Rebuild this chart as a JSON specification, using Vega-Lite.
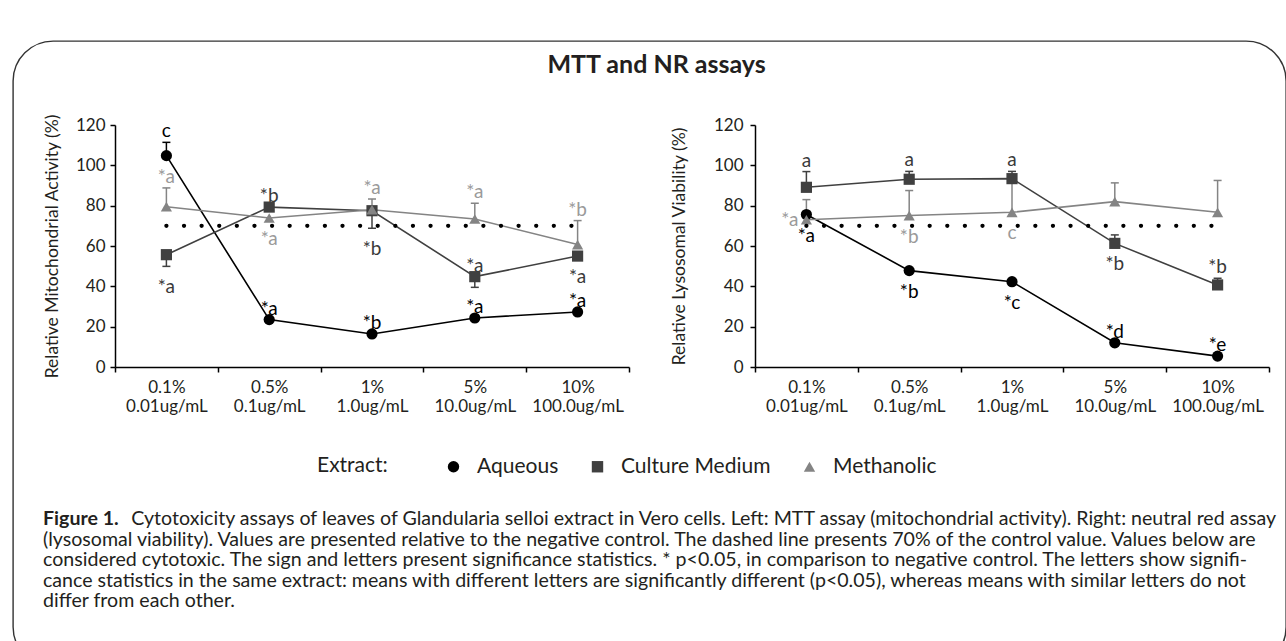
{
  "$schema": "https://vega.github.io/schema/vega-lite/v6.json",
  "background": "white",
  "padding": {"left": 12, "top": 40, "right": 0, "bottom": 0},
  "datasets": {
    "pts": [
      {"p": "MTT", "c": "0.1%|0.01ug/mL", "s": "Aqueous", "v": 104.8, "lo": 104.8, "hi": 111.4, "la": "c"},
      {"p": "MTT", "c": "0.5%|0.1ug/mL", "s": "Aqueous", "v": 23.5, "lo": 23.5, "hi": 23.5, "la": "*a"},
      {"p": "MTT", "c": "1%|1.0ug/mL", "s": "Aqueous", "v": 16.4, "lo": 16.4, "hi": 16.4, "la": "*b"},
      {"p": "MTT", "c": "5%|10.0ug/mL", "s": "Aqueous", "v": 24.3, "lo": 24.3, "hi": 24.3, "la": "*a"},
      {"p": "MTT", "c": "10%|100.0ug/mL", "s": "Aqueous", "v": 27.3, "lo": 27.3, "hi": 27.3, "la": "*a"},
      {"p": "MTT", "c": "0.1%|0.01ug/mL", "s": "Culture Medium", "v": 55.7, "lo": 49.9, "hi": 55.7, "lb": "*a"},
      {"p": "MTT", "c": "0.5%|0.1ug/mL", "s": "Culture Medium", "v": 79.3, "lo": 79.3, "hi": 79.3, "la": "*b"},
      {"p": "MTT", "c": "1%|1.0ug/mL", "s": "Culture Medium", "v": 77.5, "lo": 68.8, "hi": 77.5, "lb": "*b"},
      {"p": "MTT", "c": "5%|10.0ug/mL", "s": "Culture Medium", "v": 44.8, "lo": 39.5, "hi": 44.8, "la": "*a"},
      {"p": "MTT", "c": "10%|100.0ug/mL", "s": "Culture Medium", "v": 55.0, "lo": 55.0, "hi": 55.0, "lb": "*a"},
      {"p": "MTT", "c": "0.1%|0.01ug/mL", "s": "Methanolic", "v": 79.5, "lo": 79.5, "hi": 88.8, "la": "*a"},
      {"p": "MTT", "c": "0.5%|0.1ug/mL", "s": "Methanolic", "v": 73.9, "lo": 73.9, "hi": 73.9, "lb": "*a"},
      {"p": "MTT", "c": "1%|1.0ug/mL", "s": "Methanolic", "v": 78.0, "lo": 78.0, "hi": 83.3, "la": "*a"},
      {"p": "MTT", "c": "5%|10.0ug/mL", "s": "Methanolic", "v": 73.4, "lo": 73.4, "hi": 81.2, "la": "*a"},
      {"p": "MTT", "c": "10%|100.0ug/mL", "s": "Methanolic", "v": 60.7, "lo": 60.7, "hi": 72.6, "la": "*b"},
      {"p": "NR", "c": "0.1%|0.01ug/mL", "s": "Aqueous", "v": 75.6, "lo": 75.6, "hi": 75.6, "lb": "*a"},
      {"p": "NR", "c": "0.5%|0.1ug/mL", "s": "Aqueous", "v": 47.8, "lo": 47.8, "hi": 47.8, "lb": "*b"},
      {"p": "NR", "c": "1%|1.0ug/mL", "s": "Aqueous", "v": 42.3, "lo": 42.3, "hi": 42.3, "lb": "*c"},
      {"p": "NR", "c": "5%|10.0ug/mL", "s": "Aqueous", "v": 12.0, "lo": 12.0, "hi": 12.0, "la": "*d"},
      {"p": "NR", "c": "10%|100.0ug/mL", "s": "Aqueous", "v": 5.4, "lo": 5.4, "hi": 5.4, "la": "*e"},
      {"p": "NR", "c": "0.1%|0.01ug/mL", "s": "Culture Medium", "v": 89.1, "lo": 89.1, "hi": 96.9, "la": "a"},
      {"p": "NR", "c": "0.5%|0.1ug/mL", "s": "Culture Medium", "v": 93.1, "lo": 93.1, "hi": 97.0, "la": "a"},
      {"p": "NR", "c": "1%|1.0ug/mL", "s": "Culture Medium", "v": 93.4, "lo": 93.4, "hi": 97.0, "la": "a"},
      {"p": "NR", "c": "5%|10.0ug/mL", "s": "Culture Medium", "v": 61.3, "lo": 61.3, "hi": 65.5, "lb": "*b"},
      {"p": "NR", "c": "10%|100.0ug/mL", "s": "Culture Medium", "v": 40.7, "lo": 40.7, "hi": 44.0, "la": "*b"},
      {"p": "NR", "c": "0.1%|0.01ug/mL", "s": "Methanolic", "v": 73.0, "lo": 73.0, "hi": 83.0, "ll": "*a"},
      {"p": "NR", "c": "0.5%|0.1ug/mL", "s": "Methanolic", "v": 75.1, "lo": 75.1, "hi": 87.5, "lb": "*b"},
      {"p": "NR", "c": "1%|1.0ug/mL", "s": "Methanolic", "v": 76.7, "lo": 76.7, "hi": 92.0, "lb": "c"},
      {"p": "NR", "c": "5%|10.0ug/mL", "s": "Methanolic", "v": 82.0, "lo": 82.0, "hi": 91.3},
      {"p": "NR", "c": "10%|100.0ug/mL", "s": "Methanolic", "v": 76.7, "lo": 76.7, "hi": 92.5}
    ],
    "ref": [
      {"p": "MTT", "c": "0.1%|0.01ug/mL", "v": 70},
      {"p": "MTT", "c": "10%|100.0ug/mL", "v": 70},
      {"p": "NR", "c": "0.1%|0.01ug/mL", "v": 70},
      {"p": "NR", "c": "10%|100.0ug/mL", "v": 70}
    ],
    "caption": [
      {"line": 1, "part": "b", "t": "Figure 1."},
      {"line": 1, "part": "r", "t": "Cytotoxicity assays of leaves of Glandularia selloi extract in Vero cells. Left: MTT assay (mitochondrial activity). Right: neutral red assay"},
      {"line": 2, "part": "n", "t": "(lysosomal viability). Values are presented relative to the negative control. The dashed line presents 70% of the control value. Values below are"},
      {"line": 3, "part": "n", "t": "considered cytotoxic. The sign and letters present significance statistics. * p<0.05, in comparison to negative control. The letters show signifi-"},
      {"line": 4, "part": "n", "t": "cance statistics in the same extract: means with different letters are significantly different (p<0.05), whereas means with similar letters do not"},
      {"line": 5, "part": "n", "t": "differ from each other."}
    ]
  },
  "config": {
    "font": "Lato",
    "view": {"stroke": null},
    "axis": {
      "domainColor": "#000000", "domainWidth": 1.5, "tickColor": "#000000", "tickWidth": 1.5, "tickSize": 5,
      "labelFont": "Lato", "labelFontSize": 17, "labelColor": "#231f20",
      "titleFont": "Lato", "titleFontSize": 17.5, "titleFontWeight": "normal", "titleColor": "#231f20",
      "grid": false
    },
    "legend": {
      "labelFont": "Lato", "labelFontSize": 21, "labelColor": "#231f20",
      "titleFont": "Lato", "titleFontSize": 21, "titleFontWeight": "normal", "titleColor": "#231f20",
      "strokeWidth": 1.4
    },
    "text": {"font": "Lato", "color": "#231f20"}
  },
  "spacing": 95,
  "vconcat": [
    {
      "title": {"text": "MTT and NR assays", "fontSize": 25, "fontWeight": "bold", "font": "Lato", "color": "#231f20", "anchor": "middle", "frame": "bounds", "baseline": "alphabetic", "offset": 16},
      "spacing": 40,
      "hconcat": [
        {
          "width": 514,
          "height": 242,
          "data": {"name": "pts"},
          "transform": [{"filter": "datum.p == 'MTT'"}],
          "encoding": {
            "x": {"field": "c", "type": "nominal", "sort": ["0.1%|0.01ug/mL", "0.5%|0.1ug/mL", "1%|1.0ug/mL", "5%|10.0ug/mL", "10%|100.0ug/mL"],
                  "scale": {"type": "band", "paddingInner": 0, "paddingOuter": 0},
                  "axis": {"title": null, "labelAngle": 0, "labelExpr": "split(datum.label, '|')", "tickBand": "extent", "labelLineHeight": 19, "labelPadding": 7}},
            "y": {"field": "v", "type": "quantitative", "scale": {"domain": [0, 120], "nice": false},
                  "axis": {"title": "Relative Mitochondrial Activity (%)", "values": [0, 20, 40, 60, 80, 100, 120], "labelPadding": 5, "titlePadding": 14}}
          },
          "layer": [
            {
              "mark": {"type": "line", "strokeWidth": 1.6},
              "encoding": {
                "color": {"field": "s", "type": "nominal", "scale": {"domain": ["Aqueous", "Culture Medium", "Methanolic"], "range": ["#000000", "#404040", "#848484"]}},
                "order": {"value": null}
              }
            },
            {
              "mark": {"type": "rule", "strokeWidth": 1.5},
              "encoding": {
                "y": {"field": "lo", "type": "quantitative"},
                "y2": {"field": "hi"},
                "color": {"field": "s", "type": "nominal"}
              }
            },
            {
              "transform": [{"filter": "datum.hi > datum.v"}],
              "mark": {"type": "tick", "thickness": 1.5, "size": 8, "opacity": 1},
              "encoding": {
                "y": {"field": "hi", "type": "quantitative"},
                "color": {"field": "s", "type": "nominal"}
              }
            },
            {
              "transform": [{"filter": "datum.lo < datum.v"}],
              "mark": {"type": "tick", "thickness": 1.5, "size": 8, "opacity": 1},
              "encoding": {
                "y": {"field": "lo", "type": "quantitative"},
                "color": {"field": "s", "type": "nominal"}
              }
            },
            {
              "mark": {"type": "point", "filled": true, "opacity": 1, "size": 125, "strokeWidth": 0},
              "encoding": {
                "shape": {"field": "s", "type": "nominal", "scale": {"domain": ["Aqueous", "Culture Medium", "Methanolic"], "range": ["circle", "square", "triangle-up"]}, "legend": null},
                "stroke": {"field": "v", "type": "quantitative", "scale": {"range": ["rgba(0,0,0,0)", "rgba(0,0,0,0)"]},
                  "legend": {"title": null, "orient": "none", "legendX": -102, "legendY": -84, "direction": "horizontal", "type": "gradient",
                    "gradientLength": 1273, "gradientThickness": 603, "labels": false, "padding": 0,
                    "strokeColor": "#333333", "cornerRadius": 40, "gradientStrokeWidth": 0, "gradientOpacity": 0}},
                "color": {"field": "s", "type": "nominal",
                  "legend": {
                    "title": "Extract:", "orient": "none", "legendX": 202, "legendY": 331, "direction": "horizontal",
                    "titleOrient": "left", "titlePadding": 55, "titleAnchor": "middle", "titleBaseline": "middle",
                    "labelOffset": 13, "columnPadding": 28, "symbolSize": 130, "symbolStrokeWidth": 0, "symbolOpacity": 1
                  }
                }
              }
            },
            {
              "data": {"name": "ref"},
              "transform": [{"filter": "datum.p == 'MTT'"}],
              "mark": {"type": "line", "color": "#000000", "strokeWidth": 4.3, "strokeDash": [0.01, 17.6], "strokeCap": "round"},
              "encoding": {"order": {"value": null}}
            },
            {
              "transform": [{"filter": "datum.la"}],
              "mark": {"type": "text", "fontSize": 19, "baseline": "middle", "dy": -11},
              "encoding": {
                "y": {"field": "hi", "type": "quantitative"},
                "text": {"field": "la"},
                "fill": {"field": "s", "type": "nominal", "scale": {"domain": ["Aqueous", "Culture Medium", "Methanolic"], "range": ["#000000", "#3a3a3a", "#9a9a9a"]}, "legend": null}
              }
            },
            {
              "transform": [{"filter": "datum.lb"}],
              "mark": {"type": "text", "fontSize": 19, "baseline": "middle", "dy": 21},
              "encoding": {
                "y": {"field": "lo", "type": "quantitative"},
                "text": {"field": "lb"},
                "fill": {"field": "s", "type": "nominal", "legend": null}
              }
            }
          ]
        },
        {
          "width": 514,
          "height": 242,
          "data": {"name": "pts"},
          "transform": [{"filter": "datum.p == 'NR'"}],
          "encoding": {
            "x": {"field": "c", "type": "nominal", "sort": ["0.1%|0.01ug/mL", "0.5%|0.1ug/mL", "1%|1.0ug/mL", "5%|10.0ug/mL", "10%|100.0ug/mL"],
                  "scale": {"type": "band", "paddingInner": 0, "paddingOuter": 0},
                  "axis": {"title": null, "labelAngle": 0, "labelExpr": "split(datum.label, '|')", "tickBand": "extent", "labelLineHeight": 19, "labelPadding": 7}},
            "y": {"field": "v", "type": "quantitative", "scale": {"domain": [0, 120], "nice": false},
                  "axis": {"title": "Relative Lysosomal Viability (%)", "values": [0, 20, 40, 60, 80, 100, 120], "labelPadding": 7, "titlePadding": 25}}
          },
          "layer": [
            {
              "mark": {"type": "line", "strokeWidth": 1.6},
              "encoding": {
                "color": {"field": "s", "type": "nominal"},
                "order": {"value": null}
              }
            },
            {
              "mark": {"type": "rule", "strokeWidth": 1.5},
              "encoding": {
                "y": {"field": "lo", "type": "quantitative"},
                "y2": {"field": "hi"},
                "color": {"field": "s", "type": "nominal"}
              }
            },
            {
              "transform": [{"filter": "datum.hi > datum.v"}],
              "mark": {"type": "tick", "thickness": 1.5, "size": 8, "opacity": 1},
              "encoding": {
                "y": {"field": "hi", "type": "quantitative"},
                "color": {"field": "s", "type": "nominal"}
              }
            },
            {
              "mark": {"type": "point", "filled": true, "opacity": 1, "size": 125, "strokeWidth": 0},
              "encoding": {
                "shape": {"field": "s", "type": "nominal", "legend": null},
                "color": {"field": "s", "type": "nominal"}
              }
            },
            {
              "data": {"name": "ref"},
              "transform": [{"filter": "datum.p == 'NR'"}],
              "mark": {"type": "line", "color": "#000000", "strokeWidth": 4.3, "strokeDash": [0.01, 17.6], "strokeCap": "round"},
              "encoding": {"order": {"value": null}}
            },
            {
              "transform": [{"filter": "datum.la"}],
              "mark": {"type": "text", "fontSize": 19, "baseline": "middle", "dy": -11},
              "encoding": {
                "y": {"field": "hi", "type": "quantitative"},
                "text": {"field": "la"},
                "fill": {"field": "s", "type": "nominal", "legend": null}
              }
            },
            {
              "transform": [{"filter": "datum.lb"}],
              "mark": {"type": "text", "fontSize": 19, "baseline": "middle", "dy": 21},
              "encoding": {
                "y": {"field": "lo", "type": "quantitative"},
                "text": {"field": "lb"},
                "fill": {"field": "s", "type": "nominal", "legend": null}
              }
            },
            {
              "transform": [{"filter": "datum.ll"}],
              "mark": {"type": "text", "fontSize": 19, "baseline": "middle", "align": "right", "dx": -8},
              "encoding": {
                "text": {"field": "ll"},
                "fill": {"field": "s", "type": "nominal", "legend": null}
              }
            }
          ]
        }
      ]
    },
    {
      "width": 1161,
      "height": {"step": 20.5},
      "data": {"name": "caption"},
      "encoding": {
        "y": {"field": "line", "type": "ordinal", "axis": null}
      },
      "layer": [
        {
          "transform": [{"filter": "datum.part == 'b'"}],
          "mark": {"type": "text", "align": "left", "baseline": "middle", "x": 0, "dx": -72, "fontSize": 19.6, "fontWeight": "bold"},
          "encoding": {"text": {"field": "t"}}
        },
        {
          "transform": [{"filter": "datum.part == 'r'"}],
          "mark": {"type": "text", "align": "right", "baseline": "middle", "x": "width", "fontSize": 19.6},
          "encoding": {"text": {"field": "t"}}
        },
        {
          "transform": [{"filter": "datum.part == 'n'"}],
          "mark": {"type": "text", "align": "left", "baseline": "middle", "x": 0, "dx": -72, "fontSize": 19.6},
          "encoding": {"text": {"field": "t"}}
        }
      ]
    }
  ]
}
